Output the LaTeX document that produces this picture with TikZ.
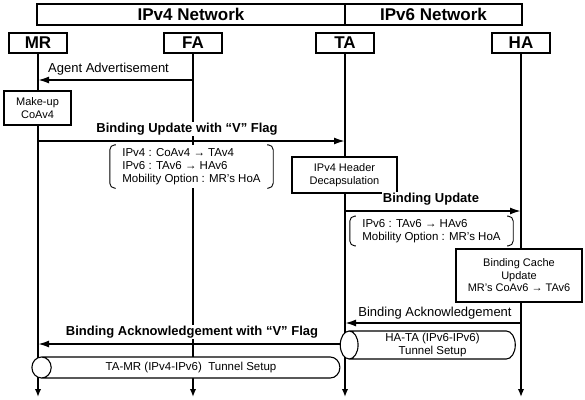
\documentclass[tikz,border=0pt]{standalone}
\usepackage{fontspec}
\setmainfont{Liberation Sans}
\usepackage{tikz}
\usetikzlibrary{positioning,arrows.meta,shapes.geometric}
\tikzset{
  entity/.style={rectangle, draw, line width=1.3pt, minimum width=58pt, minimum height=20pt, inner sep=0pt, font=\fontsize{17}{19}\selectfont\bfseries},
  netband/.style={rectangle, draw, line width=1.3pt, minimum height=21pt, inner sep=0pt, font=\fontsize{17}{19}\selectfont\bfseries},
  lifeline/.style={line width=1.8pt, -{Latex[length=8pt,width=6.5pt]}},
  msg/.style={line width=1.8pt, -{Latex[length=11pt,width=7pt]}},
  msglabel/.style={fill=white, inner sep=1pt, font=\fontsize{13}{15}\selectfont},
  boldlabel/.style={msglabel, font=\fontsize{13}{15}\selectfont\bfseries},
  procbox/.style={rectangle, draw, fill=white, line width=1.1pt, align=center, inner sep=2pt, font=\fontsize{11}{12.5}\selectfont},
  paramtext/.style={fill=white, align=left, inner sep=3pt, font=\fontsize{11.5}{13}\selectfont},
  tunnel/.style={cylinder, shape border rotate=180, draw, fill=white, line width=1.1pt, align=center, inner sep=0pt, font=\fontsize{11.5}{13}\selectfont},
}

\begin{document}
\begin{tikzpicture}[x=1pt, y=-1pt]
  \useasboundingbox (0,0) rectangle (585,399);

  % network bands
  \node[netband, minimum width=308pt] (v4net) at (191,14.5) {IPv4 Network};
  \node[netband, minimum width=177pt] (v6net) at (433.5,14.5) {IPv6 Network};

  % entities
  \node[entity] (mr) at (38,43) {MR};
  \node[entity] (fa) at (193,43) {FA};
  \node[entity] (ta) at (345,43) {TA};
  \node[entity] (ha) at (521,43) {HA};

  \coordinate (bot) at (0,397);
  \foreach \a in {mr,fa,ta,ha}
    \draw[lifeline] (\a.south) -- (\a |- bot);

  % rows of the message sequence
  \coordinate (adv) at (0,80);
  \coordinate (bu4) at (0,141);
  \coordinate (bu6) at (0,211);
  \coordinate (ack6) at (0,323);
  \coordinate (ack4) at (0,344);

  % agent advertisement
  \draw[msg] (fa |- adv) -- (mr |- adv);
  \node[msglabel, anchor=west] (advlbl) at (47,69) {Agent Advertisement};
  \node[procbox, minimum width=67pt, minimum height=34pt] (makeup) at (37.5,108) {Make-up\\CoAv4};

  % binding update with V flag
  \node[boldlabel] (bu4lbl) at (187,129) {Binding Update with “V” Flag};
  \draw[msg] (mr |- bu4) -- (ta |- bu4);
  \node[paramtext, minimum width=163pt, minimum height=43pt] (bu4par) at (191.5,166.5) {IPv4 : CoAv4 → TAv4\\IPv6 : TAv6 → HAv6\\Mobility Option : MR's HoA};
  \node[procbox, minimum width=105pt, minimum height=36pt] (decap) at (344.5,175) {IPv4 Header\\Decapsulation};

  % binding update towards HA
  \node[boldlabel] (bu6lbl) at (431,199) {Binding Update};
  \draw[msg] (ta |- bu6) -- (ha |- bu6);
  \node[paramtext, minimum width=163pt, minimum height=29pt] (bu6par) at (431.5,231) {IPv6 : TAv6 → HAv6\\Mobility Option : MR's HoA};
  \node[procbox, minimum width=126pt, minimum height=53pt] (bcache) at (519,275.5) {Binding Cache\\Update\\MR's CoAv6 → TAv6};

  % acknowledgements
  \node[msglabel] (ack6lbl) at (435,313) {Binding Acknowledgement};
  \draw[msg] (ha |- ack6) -- (ta |- ack6);
  \node[boldlabel] (ack4lbl) at (192,332) {Binding Acknowledgement with “V” Flag};
  \draw[msg] (ta |- ack4) -- (mr |- ack4);

  % tunnels
  \node[tunnel, minimum height=175pt, minimum width=28pt, aspect=0.75] (tun6) at (432.5,345) {HA-TA (IPv6-IPv6)\\Tunnel Setup};
  \node[tunnel, minimum height=308pt, minimum width=21pt, aspect=1.8] (tun4) at (191,367.5) {TA-MR (IPv4-IPv6) \ Tunnel Setup};

  % round brackets around the message parameters
  \foreach \p in {bu4par,bu6par} {
    \draw[line width=0.9pt, rounded corners=5pt] ([xshift=6pt]\p.north west) -- (\p.north west) -- (\p.south west) -- ([xshift=6pt]\p.south west);
    \draw[line width=0.9pt, rounded corners=5pt] ([xshift=-6pt]\p.north east) -- (\p.north east) -- (\p.south east) -- ([xshift=-6pt]\p.south east);
  }
\end{tikzpicture}
\end{document}
